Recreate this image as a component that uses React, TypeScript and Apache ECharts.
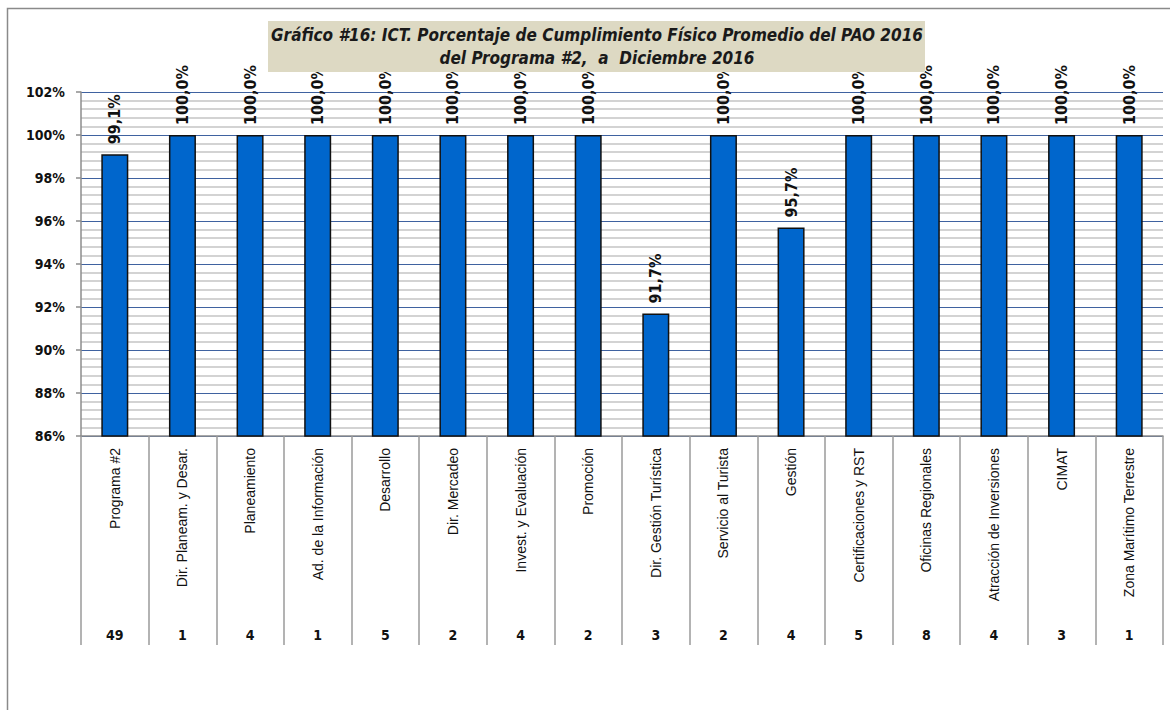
import React, { useEffect, useRef } from "react";
import * as echarts from "echarts";

const categories = [
  "Programa #2",
  "Dir. Planeam. y Desar.",
  "Planeamiento",
  "Ad. de la Información",
  "Desarrollo",
  "Dir. Mercadeo",
  "Invest. y Evaluación",
  "Promoción",
  "Dir. Gestión Turística",
  "Servicio al Turista",
  "Gestión",
  "Certificaciones y RST",
  "Oficinas Regionales",
  "Atracción de Inversiones",
  "CIMAT",
  "Zona Marítimo Terrestre",
];
const cumplimiento = [99.1, 100, 100, 100, 100, 100, 100, 100, 91.7, 100, 95.7, 100, 100, 100, 100, 100];
const counts = ["49", "1", "4", "1", "5", "2", "4", "2", "3", "2", "4", "5", "8", "4", "3", "1"];
const titleLines = [
  "Gráfico #16: ICT. Porcentaje de Cumplimiento Físico Promedio del PAO 2016",
  "del Programa #2,  a  Diciembre 2016",
];

const narrow = "'Liberation Sans Narrow', 'DejaVu Sans Condensed', 'Liberation Sans', Arial, sans-serif";
const sans = "'Liberation Sans', Arial, sans-serif";

export default function App() {
  const ref = useRef<HTMLDivElement>(null);
  useEffect(() => {
    document.body.style.margin = "0";
    const chart = echarts.init(ref.current!, null, { renderer: "svg" });
    chart.setOption({
      animation: false,
      backgroundColor: "#ffffff",
      grid: { left: 81, right: 7, top: 92, bottom: 274, containLabel: false },
      graphic: [
        {
          type: "rect",
          shape: { x: 7.5, y: 8.5, width: 1200, height: 760 },
          style: { fill: "none", stroke: "#8a8a8a", lineWidth: 1.5 },
          z: -10,
        },
        {
          type: "rect",
          shape: { x: 268, y: 21, width: 657, height: 51 },
          style: { fill: "#ddd9c3" },
          z: 5,
        },
        {
          type: "text",
          x: 597,
          y: 35,
          style: {
            text: titleLines[0],
            font: `italic bold 17px ${narrow}`,
            fill: "#1a1a1a",
            textAlign: "center",
            textVerticalAlign: "middle",
          },
          z: 6,
        },
        {
          type: "text",
          x: 597,
          y: 58,
          style: {
            text: titleLines[1],
            font: `italic bold 17px ${narrow}`,
            fill: "#1a1a1a",
            textAlign: "center",
            textVerticalAlign: "middle",
          },
          z: 6,
        },
      ],
      xAxis: [
        {
          type: "category",
          data: categories,
          position: "bottom",
          axisLine: { show: true, lineStyle: { color: "#8c8c8c", width: 1.5 } },
          axisTick: {
            show: true,
            alignWithLabel: false,
            length: 209,
            lineStyle: { color: "#9a9a9a", width: 1.5 },
          },
          axisLabel: {
            rotate: 90,
            margin: 12,
            interval: 0,
            color: "#111",
            fontSize: 14,
            fontFamily: sans,
          },
          splitLine: { show: false },
        },
        {
          type: "category",
          data: counts,
          position: "bottom",
          axisLine: { show: false },
          axisTick: { show: false },
          axisLabel: {
            margin: 192,
            interval: 0,
            color: "#111",
            fontSize: 14,
            fontWeight: "bold",
            fontFamily: narrow,
          },
        },
      ],
      yAxis: {
        type: "value",
        min: 86,
        max: 102,
        interval: 2,
        axisLine: { show: true, lineStyle: { color: "#8c8c8c", width: 1.5 } },
        axisTick: { show: true, length: 5, lineStyle: { color: "#8c8c8c", width: 1.5 } },
        axisLabel: {
          formatter: (v: number) => `${v}%`,
          margin: 16,
          color: "#111",
          fontSize: 14,
          fontWeight: "bold",
          fontFamily: narrow,
        },
        splitLine: { show: true, lineStyle: { color: "#3f62a0", width: 1.2 } },
        minorTick: { show: false, splitNumber: 5 },
        minorSplitLine: { show: true, lineStyle: { color: "#c4c4c4", width: 1.5 } },
      },
      series: [
        {
          type: "bar",
          data: cumplimiento,
          barWidth: 27,
          itemStyle: { color: "#0066cc", borderColor: "#111", borderWidth: 1.5 },
          label: {
            show: true,
            position: "top",
            rotate: 90,
            align: "left",
            verticalAlign: "middle",
            distance: 10,
            formatter: (p: any) => `${p.value.toFixed(1).replace(".", ",")}%`,
            color: "#111",
            fontSize: 16,
            fontWeight: "bold",
            fontFamily: narrow,
          },
        },
      ],
    });
    return () => chart.dispose();
  }, []);
  return <div ref={ref} style={{ width: 1170, height: 710 }} />;
}
